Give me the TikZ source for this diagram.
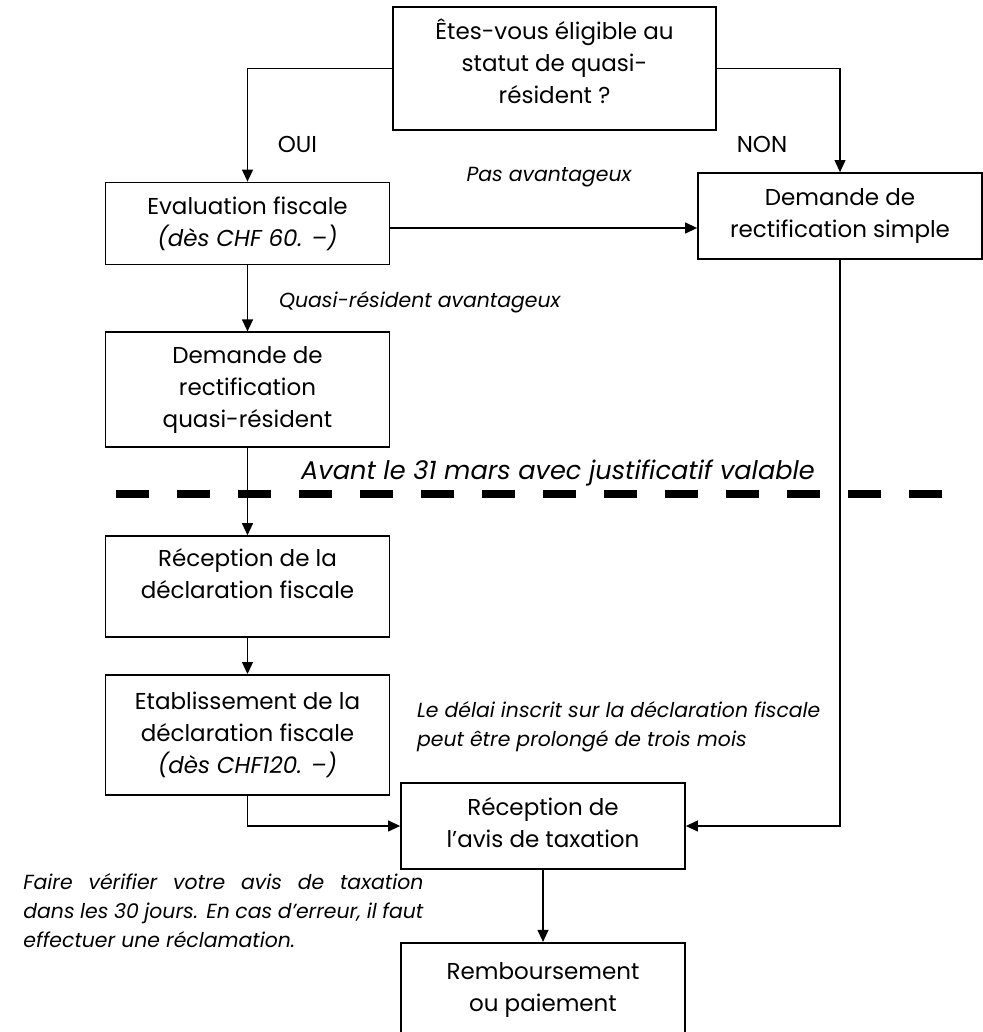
\documentclass[tikz,border=0pt]{standalone}
\usepackage{fontspec}
\setmainfont{Poppins}
\usetikzlibrary{arrows.meta, positioning}
% one justified row of the note at the bottom left
\newcommand{\justrow}[1]{\hbox to 200pt{\spaceskip=0.25em plus 1fil\relax #1}}

\begin{document}
\begin{tikzpicture}[
  x=0.5pt, y=-0.5pt,
  box/.style={draw, line width=0.9pt, minimum width=142pt, align=center,
    font=\fontsize{11.5}{16}\selectfont, inner sep=2pt},
  lbl/.style={font=\fontsize{11.5}{16}\selectfont},
  conn/.style={-{Triangle[length=6pt, width=5.5pt]}, line width=0.6pt},
  annot/.style={font=\fontsize{10.2}{14.5}\selectfont\itshape},
]
\useasboundingbox (0,0) rectangle (982,1032);

% Question at the top
\node[box, minimum width=161.5pt, minimum height=61.5pt] (quest) at (554.5,68.5)
  {Êtes-vous éligible au\\statut de quasi-\\résident ?\\[-9pt]\mbox{}};

% The two answers
\node[box, minimum height=41pt] (eval) at (247.5,223.5)
  {Evaluation fiscale\\\textit{(dès CHF 60. –)}};
\node[box, minimum height=43pt] (simple) at (840,216)
  {Demande de\\rectification simple};

% Left chain going down
\node[box, minimum height=57.5pt, below=33pt of eval] (quasi)
  {Demande de\\rectification\\quasi-résident};
\node[box, minimum height=50.5pt, below=43.5pt of quasi] (recdecl)
  {Réception de la\\déclaration fiscale\\[-2.5pt]\mbox{}};
\node[box, minimum height=60pt, below=18pt of recdecl] (etab)
  {Etablissement de la\\déclaration fiscale\\\textit{(dès CHF120. –)}};

% Both ways meet here
\node[box, minimum height=43pt] (avis) at (543,826)
  {Réception de\\l’avis de taxation\\[-12pt]\mbox{}};
\node[box, minimum height=47pt, below=36pt of avis] (rembours)
  {Remboursement\\ou paiement};

% Labels
\node[lbl] (oui) at (297.5,144) {OUI};
\node[lbl] (non) at (762,144) {NON};
\node[annot] (pasav) at (549,177) {Pas avantageux};
\node[annot, anchor=west] (quasiav) at (272,302) {Quasi-résident avantageux};
\node[font=\fontsize{12.8}{16}\selectfont\itshape] (avant) at (558,473)
  {Avant le 31 mars avec justificatif valable};
\node[annot, anchor=west, align=left] (delai) at (410,727)
  {Le délai inscrit sur la déclaration fiscale\\peut être prolongé de trois mois};
\node[annot, anchor=north west, align=left, inner sep=0pt] (verif) at (23,873)
  {\justrow{Faire vérifier votre avis de taxation}\\
   \justrow{dans les 30 jours. En cas d’erreur, il faut}\\
   effectuer une réclamation.};

% Deadline line
\coordinate (dashL) at (116,494);
\coordinate (dashR) at (942,494);
\draw[line width=4pt, dash pattern=on 16.5pt off 14pt] (dashL) -- (dashR);

% Connectors
\draw[conn] (quest.west) -| (eval.north);
\draw[conn] (quest.east) -| (simple.north);
\draw[conn] ([yshift=-2.25pt]eval.east) -- ([yshift=-2.25pt]eval.east -| simple.west);
\draw[conn] (eval) -- (quasi);
\draw[conn] (quasi) -- (recdecl);
\draw[conn] (recdecl) -- (etab);
\draw[conn] (etab.south) |- (avis.west);
\draw[conn] (simple.south) |- (avis.east);
\draw[conn] (avis) -- (rembours);

\end{tikzpicture}
\end{document}
